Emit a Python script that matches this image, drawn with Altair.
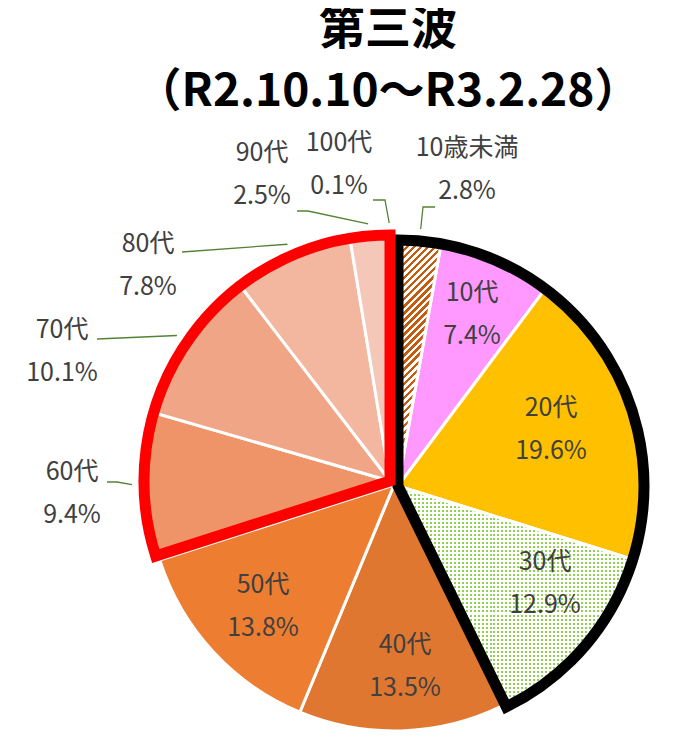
import math
import altair as alt
import pandas as pd

# ---------------- data ----------------
categories = ["10歳未満", "10代", "20代", "30代", "40代", "50代",
              "60代", "70代", "80代", "90代", "100代"]
percents = [2.8, 7.4, 19.6, 12.9, 13.5, 13.8, 9.4, 10.1, 7.8, 2.5, 0.1]
groups = ["young", "young", "young", "young", "mid", "mid",
          "old", "old", "old", "old", "old"]
title_lines = ["第三波", "（R2.10.10～R3.2.28）"]

# ---------------- style / layout ----------------
colors = ["#C55A11", "#FF99FF", "#FFC000", "#92D050", "#E07731", "#ED7D31",
          "#EF9469", "#F0A686", "#F3B7A0", "#F4C7B8", "#F6D5C9"]
W, H = 674, 722
CX, CY, R = 386, 477, 246
OFFSETS = {"young": (4, 1), "mid": (0, 0), "old": (-4, -4)}
TEXT = "#404040"
LEADER = "#548235"
FONT = "Noto Sans CJK JP"
FS = 25
LH = 43

# label positions: centre of the first line (chart coordinates)
label_x = [459, 464, 543, 537, 397, 255, 64, 54, 140, 254, 331]
label_y = [140, 285, 400, 554, 637, 577, 464, 322, 236, 145, 135]
# leader lines for outside labels: elbow and end point
leader_cats = ["10歳未満", "100代", "90代", "80代", "70代", "60代"]
elbow_x = [415, 377, 300, 174, 89, 109]
elbow_y = [199, 192, 203, 244, 331, 474]
end_x = [427, 365, 289, 174, 89, 99]
end_y = [199, 192, 203, 244, 331, 474]

total = sum(percents)
df = pd.DataFrame({"cat": categories, "pct": percents, "grp": groups,
                   "order": list(range(len(categories)))})
df["end"] = df["pct"].cumsum()
df["start"] = df["end"] - df["pct"]
df["mid"] = (df["start"] + df["end"]) / 2
df["label"] = [f"{c}\n{p:.1f}%" for c, p in zip(categories, percents)]
df["lx"] = label_x
df["ly"] = label_y

theta_scale = alt.Scale(domain=[0, total], range=[0, 2 * math.pi])
color_scale = alt.Scale(domain=categories, range=colors)


def ang(v):
    return v / total * 2 * math.pi


def gpos(g):
    dx, dy = OFFSETS[g]
    return CX + dx, CY + dy


layers = []
# base slices
for g in ["mid", "old", "young"]:
    x0, y0 = gpos(g)
    layers.append(
        alt.Chart(df).transform_filter(alt.datum.grp == g)
        .mark_arc(radius=R, stroke="white", strokeWidth=3)
        .encode(theta=alt.Theta("start:Q", scale=theta_scale),
                theta2="end:Q",
                color=alt.Color("cat:N", scale=color_scale, legend=None),
                x=alt.value(x0), y=alt.value(y0))
    )

# hatch pattern for 10歳未満 (wide upward diagonal)
r0 = df.iloc[0]
a0, a1 = ang(r0["start"]), ang(r0["end"])
bw = R * math.sin(a1)
bh = R
s = (bw + bh) / (bw * bw + bh * bh)
ncyc = int(round((bw + bh) / 7))
stops = []
for k in range(ncyc):
    stops += [{"offset": k / ncyc, "color": "#C55A11"},
              {"offset": (k + 0.5) / ncyc, "color": "#C55A11"},
              {"offset": (k + 0.5) / ncyc, "color": "#FFFFFF"},
              {"offset": (k + 1) / ncyc, "color": "#FFFFFF"}]
hatch = {"gradient": "linear", "x1": 0, "y1": 0, "x2": bw * s, "y2": bh * s,
         "stops": stops}
x0, y0 = gpos("young")
layers.append(
    alt.Chart(df).transform_filter(alt.datum.cat == "10歳未満")
    .mark_arc(radius=R, stroke="white", strokeWidth=3, fill=hatch)
    .encode(theta=alt.Theta("start:Q", scale=theta_scale), theta2="end:Q",
            x=alt.value(x0), y=alt.value(y0))
)

# dotted pattern for 30代
r3 = df.iloc[3]
b0, b1 = ang(r3["start"]), ang(r3["end"])
dw = R * math.sin(b0)
dh = -R * math.cos(b1)
PER = 4
nh = int(round(dh / PER))
nv = int(round(dw / PER))
rows = []
for k in range(nh):
    rows += [{"offset": k / nh, "color": "#92D050"},
             {"offset": (k + 0.5) / nh, "color": "#92D050"},
             {"offset": (k + 0.5) / nh, "color": "#FFFFFF"},
             {"offset": (k + 1) / nh, "color": "#FFFFFF"}]
cols = []
for k in range(nv):
    cols += [{"offset": k / nv, "color": "rgba(255,255,255,0)"},
             {"offset": (k + 0.5) / nv, "color": "rgba(255,255,255,0)"},
             {"offset": (k + 0.5) / nv, "color": "#FFFFFF"},
             {"offset": (k + 1) / nv, "color": "#FFFFFF"}]
grad_rows = {"gradient": "linear", "x1": 0, "y1": 0, "x2": 0, "y2": 1, "stops": rows}
grad_cols = {"gradient": "linear", "x1": 0, "y1": 0, "x2": 1, "y2": 0, "stops": cols}
for gfill in [grad_rows, grad_cols]:
    layers.append(
        alt.Chart(df).transform_filter(alt.datum.cat == "30代")
        .mark_arc(radius=R, fill=gfill, strokeWidth=0)
        .encode(theta=alt.Theta("start:Q", scale=theta_scale), theta2="end:Q",
                x=alt.value(x0), y=alt.value(y0))
    )
# separators again over the pattern
layers.append(
    alt.Chart(df).transform_filter(alt.datum.cat == "30代")
    .mark_arc(radius=R, fillOpacity=0, stroke="white", strokeWidth=3)
    .encode(theta=alt.Theta("start:Q", scale=theta_scale), theta2="end:Q",
            x=alt.value(x0), y=alt.value(y0))
)

# group outlines
for g, col in [("young", "#000000"), ("old", "#FF0000")]:
    gx, gy = gpos(g)
    layers.append(
        alt.Chart(df).transform_filter(alt.datum.grp == g)
        .transform_aggregate(start="min(start)", end="max(end)", groupby=["grp"])
        .mark_arc(radius=R, fillOpacity=0, stroke=col, strokeWidth=11,
                  strokeJoin="miter")
        .encode(theta=alt.Theta("start:Q", scale=theta_scale), theta2="end:Q",
                x=alt.value(gx), y=alt.value(gy))
    )

# leader lines
pts = []
for i, c in enumerate(leader_cats):
    row = df[df["cat"] == c].iloc[0]
    gx, gy = gpos(row["grp"])
    a = ang(row["mid"])
    rr = R + 12
    pts.append({"cat": c, "k": 0, "x": gx + rr * math.sin(a), "y": gy - rr * math.cos(a)})
    pts.append({"cat": c, "k": 1, "x": elbow_x[i], "y": elbow_y[i]})
    pts.append({"cat": c, "k": 2, "x": end_x[i], "y": end_y[i]})
lead = pd.DataFrame(pts)
layers.append(
    alt.Chart(lead).mark_line(color=LEADER, strokeWidth=1.3)
    .encode(x=alt.X("x:Q", scale=None), y=alt.Y("y:Q", scale=None),
            detail="cat:N", order="k:Q")
)

# data labels
layers.append(
    alt.Chart(df).mark_text(font=FONT, fontSize=FS, color=TEXT, lineBreak="\n",
                            lineHeight=LH, align="center", baseline="middle")
    .encode(x=alt.X("lx:Q", scale=None), y=alt.Y("ly:Q", scale=None),
            text="label:N")
)

# title (one two-line text block)
layers.append(
    alt.Chart(df.head(1)).mark_text(text="\n".join(title_lines), lineBreak="\n",
                                    lineHeight=62, font=FONT, fontSize=46,
                                    fontWeight="bold", color="#000000",
                                    align="center", baseline="top")
    .encode(x=alt.value(380), y=alt.value(0))
)

chart = alt.layer(*layers).properties(
    width=W, height=H, padding=0,
    autosize=alt.AutoSizeParams(type="none"),
).configure_view(stroke=None)

chart.save("out.html", embed_options={"renderer": "svg", "actions": False})
